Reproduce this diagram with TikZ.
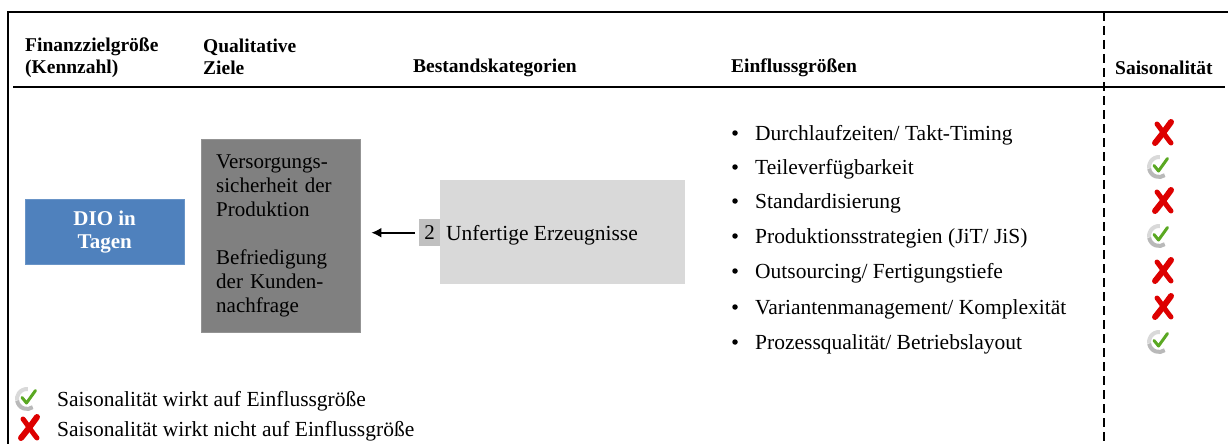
\documentclass[tikz,border=0pt]{standalone}
\usepackage{fontspec}
\setmainfont{Liberation Serif}
\usetikzlibrary{arrows.meta}

\definecolor{dioblue}{HTML}{4F81BD}
\definecolor{zielgray}{HTML}{808080}
\definecolor{numgray}{HTML}{C0C0C0}
\definecolor{katgray}{HTML}{D9D9D9}
\definecolor{xred}{HTML}{DD0000}
\definecolor{okgreen}{HTML}{5AA822}

\tikzset{
  hdr/.style={font=\bfseries\fontsize{19.5}{22}\selectfont, anchor=west, inner sep=0pt, align=left},
  txt/.style={font=\fontsize{21.5}{24}\selectfont, anchor=base west, inner sep=0pt},
  bul/.style={circle, fill=black, inner sep=0pt, minimum size=5.5pt},
  frame/.style={line width=2pt, black},
  okmark/.pic={
    \begin{scope}[yscale=-1]
      \draw[line width=4pt, gray!30] (85:10) arc (85:190:10);
      \draw[line width=4pt, gray!55] (190:10) arc (190:305:10);
      \draw[line width=3pt, okgreen, line cap=round, line join=round]
        (-5,1.5) -- (-0.5,-4) -- (8.5,8.5);
    \end{scope}},
  xmark/.pic={
    \begin{scope}[yscale=-1]
      \draw[line width=6pt, xred, line cap=round]
        (8,11) .. controls (3,4) and (-3,-4) .. (-8,-10);
      \draw[line width=5pt, xred, line cap=round]
        (-6,9) .. controls (-2,4) and (3,-4) .. (8,-10);
    \end{scope}}
}

\begin{document}
\begin{tikzpicture}[x=1pt, y=-1pt]
\useasboundingbox (0,0) rectangle (1228,444);

% frame and header rule
\draw[frame] (8,444) -- (8,12) -- (1228,12);
\draw[frame] (13,87) -- (1225,87);
\draw[line width=2.5pt, dash pattern=on 9pt off 5pt] (1104,12) -- (1104,444);

% column headers
\node[hdr] (h1) at (25,58) {Finanzzielgröße\\(Kennzahl)};
\node[hdr] (h2) at (203,57) {Qualitative\\Ziele};
\node[hdr] (h3) at (413,68) {Bestandskategorien};
\node[hdr] (h4) at (731,68) {Einflussgrößen};
\node[hdr] (h5) at (1115,68) {Saisonalität};

% key figure
\node[fill=dioblue, draw=dioblue!85!white, minimum width=159, minimum height=65,
      anchor=north west, align=center, text=white,
      font=\bfseries\fontsize{21}{23}\selectfont] (dio) at (25,199) {DIO in\\Tagen};

% qualitative goals
\node[fill=zielgray, draw=zielgray!85!white, minimum width=159, minimum height=193,
      anchor=north west, text width=129, inner xsep=15, align=left,
      font=\fontsize{21}{24}\selectfont] (ziele) at (201,139)
  {Versorgungs-\\sicherheit der\\Produktion\\[24pt]Befriedigung\\der Kunden-\\nachfrage};

% inventory category
\node[fill=katgray, minimum width=245, minimum height=104, anchor=north west] (kat) at (440,180) {};
\node[fill=numgray, minimum width=21, minimum height=27, anchor=north west, inner sep=0pt,
      font=\fontsize{21}{24}\selectfont] (num) at (419,219) {2};
\node[txt] (katlabel) at (446,240) {Unfertige Erzeugnisse};

\draw[-{Latex[length=10pt,width=10pt]}, line width=1.8pt]
  ([xshift=-4pt]num.west) -- ([xshift=11pt]num.west -| ziele.east);

% influencing factors with seasonality marks
\foreach \y/\t/\m/\mx [count=\i] in {
  133/{Durchlaufzeiten/ Takt-Timing}/xmark/1163,
  167/{Teileverfügbarkeit}/okmark/1159,
  201/{Standardisierung}/xmark/1163,
  236/{Produktionsstrategien (JiT/ JiS)}/okmark/1159,
  271/{Outsourcing/ Fertigungstiefe}/xmark/1163,
  307/{Variantenmanagement/ Komplexität}/xmark/1163,
  342/{Prozessqualität/ Betriebslayout}/okmark/1159} {
  \node[bul] (b\i) at (735,\y) {};
  \node[txt] (f\i) at (755,\y+7) {\t};
  \pic at (\mx,\y) {\m};
}

% legend
\pic at (27,399) {okmark};
\node[txt] (leg1) at (57,406) {Saisonalität wirkt auf Einflussgröße};
\pic at (29,428) {xmark};
\node[txt] (leg2) at (57,436) {Saisonalität wirkt nicht auf Einflussgröße};
\end{tikzpicture}
\end{document}
